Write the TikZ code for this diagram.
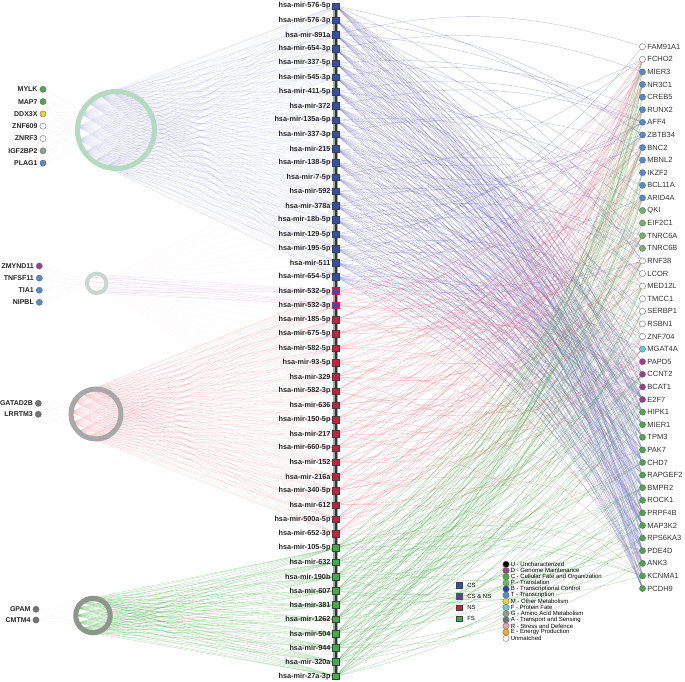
\documentclass[tikz,border=0pt]{standalone}
\usepackage{fontspec}
\setmainfont{Liberation Sans}
\usepackage{xcolor}
\usepackage{tikz}
\usetikzlibrary{positioning,backgrounds}

\definecolor{csblue}{RGB}{50,80,175}
\definecolor{nsred}{RGB}{205,30,60}
\definecolor{fsgreen}{RGB}{60,175,70}
\definecolor{catU}{RGB}{0,0,0}
\definecolor{catD}{RGB}{160,60,140}
\definecolor{catC}{RGB}{70,170,70}
\definecolor{catP}{RGB}{115,180,105}
\definecolor{catB}{RGB}{40,70,160}
\definecolor{catT}{RGB}{80,140,210}
\definecolor{catM}{RGB}{230,215,40}
\definecolor{catF}{RGB}{110,200,215}
\definecolor{catG}{RGB}{145,160,145}
\definecolor{catA}{RGB}{115,115,115}
\definecolor{catR}{RGB}{235,160,170}
\definecolor{catE}{RGB}{240,175,30}
\definecolor{catN}{RGB}{255,255,255}
\definecolor{lnblue}{RGB}{105,105,200}
\definecolor{lnred}{RGB}{235,105,120}
\definecolor{lngreen}{RGB}{70,175,70}
\definecolor{lnpink}{RGB}{225,140,200}

\begin{document}
\begin{tikzpicture}[x=1pt,y=-1pt,
  mir/.style={draw=black!75,line width=.4pt,minimum size=6.6pt,inner sep=0pt,outer sep=0pt},
  cs/.style={mir,fill=csblue},
  csns/.style={mir,fill=csblue,draw=nsred,line width=1.3pt},
  ns/.style={mir,fill=nsred},
  fs/.style={mir,fill=fsgreen},
  mirlab/.style={font=\fontsize{7.3}{8}\selectfont\bfseries,text=black!85,inner sep=.5pt},
  gene/.style={circle,draw=black!60,line width=.35pt,minimum size=6.2pt,inner sep=0pt},
  rlab/.style={font=\fontsize{7.5}{8}\selectfont,text=black!80,inner sep=.5pt},
  llab/.style={font=\fontsize{7}{8}\selectfont\bfseries,text=black!85,inner sep=.5pt},
  ring/.style={circle,inner sep=0pt,outer sep=0pt},
  fanblue/.style={draw=lnblue!75,opacity=.22,line width=.3pt},
  fanred/.style={draw=lnred,opacity=.22,line width=.3pt},
  fangreen/.style={draw=lngreen,opacity=.4,line width=.35pt},
  fanpink/.style={draw=lnpink,opacity=.3,line width=.3pt},
  faint/.style={draw=black!30,opacity=.15,line width=.25pt},
  eblue/.style={draw=lnblue,opacity=.45,line width=.35pt},
  ered/.style={draw=lnred,opacity=.4,line width=.35pt},
  egreen/.style={draw=lngreen,opacity=.45,line width=.35pt}]

\useasboundingbox (0,0) rectangle (685,681);

% miRNA column
\foreach \lab [count=\i] in {576-5p,576-3p,891a,654-3p,337-5p,545-3p,411-5p,372,135a-5p,337-3p,215,138-5p,7-5p,592,378a,18b-5p,129-5p,195-5p,511,654-5p}
  \node[cs] (m\i) at (335.7,{6+(\i-1)*14.26}) {};
\foreach \lab [count=\i from 21] in {532-5p,532-3p}
  \node[csns] (m\i) at (335.7,{6+(\i-1)*14.26}) {};
\foreach \lab [count=\i from 23] in {185-5p,675-5p,582-5p,93-5p,329,582-3p,636,150-5p,217,660-5p,152,216a,340-5p,612,500a-5p,652-3p}
  \node[ns] (m\i) at (335.7,{6+(\i-1)*14.26}) {};
\foreach \lab [count=\i from 39] in {105-5p,632,190b,607,381,1262,504,944,320a,27a-3p}
  \node[fs] (m\i) at (335.7,{6+(\i-1)*14.26}) {};
\foreach \lab [count=\i] in {576-5p,576-3p,891a,654-3p,337-5p,545-3p,411-5p,372,135a-5p,337-3p,215,138-5p,7-5p,592,378a,18b-5p,129-5p,195-5p,511,654-5p,532-5p,532-3p,185-5p,675-5p,582-5p,93-5p,329,582-3p,636,150-5p,217,660-5p,152,216a,340-5p,612,500a-5p,652-3p,105-5p,632,190b,607,381,1262,504,944,320a,27a-3p}
  \node[mirlab,left=1.2pt of m\i] {hsa-mir-\lab};

% target genes, right
\foreach \g/\c [count=\k] in {FAM91A1/catN,FCHO2/catN,MIER3/catT,NR3C1/catT,CREB5/catT,RUNX2/catT,AFF4/catT,ZBTB34/catT,BNC2/catT,MBNL2/catT,IKZF2/catT,BCL11A/catT,ARID4A/catT,QKI/catP,EIF2C1/catP,TNRC6A/catP,TNRC6B/catP,RNF38/catN,LCOR/catN,MED12L/catN,TMCC1/catN,SERBP1/catN,RSBN1/catN,ZNF704/catN,MGAT4A/catF,PAPD5/catD,CCNT2/catD,BCAT1/catD,E2F7/catD,HIPK1/catC,MIER1/catC,TPM3/catC,PAK7/catC,CHD7/catC,RAPGEF2/catC,BMPR2/catC,ROCK1/catC,PRPF4B/catC,MAP3K2/catC,RPS6KA3/catC,PDE4D/catC,ANK3/catC,KCNMA1/catC,PCDH9/catC}
{
  \node[gene,fill=\c] (g\k) at (642.5,{46.7+(\k-1)*12.6}) {};
  \node[rlab,right=1pt of g\k] {\g};
}

% gene groups, left
\node[ring,draw={rgb,255:red,180;green,218;blue,192},line width=5pt,minimum size=77pt] (ring1) at (116,130) {};
\node[ring,draw={rgb,255:red,200;green,214;blue,206},line width=4pt,minimum size=19.5pt] (ring2) at (96.7,283.3) {};
\node[ring,draw={rgb,255:red,168;green,168;blue,168},line width=5pt,minimum size=50pt] (ring3) at (96,414) {};
\node[ring,draw={rgb,255:red,140;green,150;blue,140},line width=5pt,minimum size=34.5pt] (ring4) at (93,615.5) {};

\foreach \g/\c [count=\k] in {MYLK/catC,MAP7/catC,DDX3X/catM,ZNF609/catN,ZNRF3/catN,IGF2BP2/catG,PLAG1/catT}
{
  \node[gene,fill=\c] (la\k) at (43,{89.3+(\k-1)*12.3}) {};
  \node[llab,left=1.5pt of la\k] {\g};
}
\foreach \g/\c [count=\k] in {ZMYND11/catD,TNFSF11/catT,TIA1/catT,NIPBL/catT}
{
  \node[gene,fill=\c] (lb\k) at (39.3,{266+(\k-1)*12.1}) {};
  \node[llab,left=1.5pt of lb\k] {\g};
}
\foreach \g/\c [count=\k] in {GATAD2B/catA,LRRTM3/catA}
{
  \node[gene,fill=\c] (lc\k) at (38.3,{403.3+(\k-1)*11}) {};
  \node[llab,left=1.5pt of lc\k] {\g};
}
\foreach \g/\c [count=\k] in {GPAM/catA,CMTM4/catA}
{
  \node[gene,fill=\c] (ld\k) at (36,{609.3+(\k-1)*10.7}) {};
  \node[llab,left=1.5pt of ld\k] {\g};
}

% legend
\node[cs,minimum size=5.5pt] (k1) at (459.3,585) {};
\node[csns,minimum size=5.5pt] (k2) at (459.3,596.4) {};
\node[ns,minimum size=5.5pt] (k3) at (459.3,607.5) {};
\node[fs,minimum size=5.5pt] (k4) at (459.3,618.5) {};
\foreach \t [count=\j] in {CS,CS \& NS,NS,FS}
  \node[font=\fontsize{6}{7}\selectfont,inner sep=0pt,right=5pt of k\j] {\t};
\foreach \c/\t [count=\j] in {catU/U - Uncharacterized,catD/D - Genome Maintenance,catC/C - Cellular Fate and Organization,catP/P - Translation,catB/B - Transcriptional Control,catT/T - Transcription,catM/M - Other Metabolism,catF/F - Protein Fate,catG/G - Amino Acid Metabolism,catA/A - Transport and Sensing,catR/R - Stress and Defence,catE/E - Energy Production,catN/Unmatched}
{
  \node[gene,fill=\c,minimum size=6.4pt] (u\j) at (506,{564.3+(\j-1)*6.17}) {};
  \node[font=\fontsize{6}{6}\selectfont,inner sep=0pt,right=1.2pt of u\j] {\t};
}

\begin{scope}[on background layer]
\fill[white] (0,0) rectangle (685,681);
% left fans
\foreach \k in {1,...,7} \foreach \a in {150,180,210} \draw[faint] (la\k) -- (ring1.\a);
\foreach \k in {1,...,4} \foreach \a in {160,200} \draw[faint] (lb\k) -- (ring2.\a);
\foreach \k in {1,2} \foreach \a in {150,180,210} \draw[faint] (lc\k) -- (ring3.\a);
\foreach \k in {1,2} \foreach \a in {150,180,210} \draw[faint] (ld\k) -- (ring4.\a);
\foreach \i in {1,...,20} \foreach \a in {95,115,135,155,175,195,215,235,255} \draw[fanblue] (ring1.\a) -- (m\i);
\foreach \i in {21,22} \foreach \a in {110,140,170,200,230,260} \draw[fanpink] (ring2.\a) -- (m\i);
\foreach \i in {12,...,32} \draw[fanpink,opacity=.08] (ring2) -- (m\i);
\foreach \i in {21,...,38} \foreach \a in {100,125,150,175,200,225,250} \draw[fanred] (ring3.\a) -- (m\i);
\foreach \i in {39,...,48} \foreach \a in {105,130,155,180,205,230,255} \draw[fangreen] (ring4.\a) -- (m\i);
% right targets
\foreach \i in {1,...,20} {
  \foreach \k in {1,...,7} {
    \pgfmathtruncatemacro\t{28+mod(mod(3*\i*\i+7*\i,17)+5*\k,17)}
    \pgfmathsetmacro\bb{(46.7+(\t-1)*12.6>6+(\i-1)*14.26)?15:-15}
    \draw[eblue] (m\i) to[bend left=\bb] (g\t);}
  \foreach \k in {1,2,3} {
    \pgfmathtruncatemacro\t{1+mod(mod(\i*\i+5*\i,27)+10*\k,27)}
    \pgfmathsetmacro\bb{(46.7+(\t-1)*12.6>6+(\i-1)*14.26)?15:-15}
    \draw[eblue] (m\i) to[bend left=\bb] (g\t);}
}
\foreach \i in {21,...,38} {
  \foreach \k in {1,...,5} {
    \pgfmathtruncatemacro\t{1+mod(mod(\i*\i+3*\i,30)+7*\k,30)}
    \pgfmathsetmacro\bb{(46.7+(\t-1)*12.6>6+(\i-1)*14.26)?15:-15}
    \draw[ered] (m\i) to[bend left=\bb] (g\t);}
  \foreach \k in {1,2} {
    \pgfmathtruncatemacro\t{1+mod(mod(5*\i,44)+19*\k,44)}
    \pgfmathsetmacro\bb{(46.7+(\t-1)*12.6>6+(\i-1)*14.26)?15:-15}
    \draw[ered] (m\i) to[bend left=\bb] (g\t);}
}
\foreach \i in {39,...,48} {
  \foreach \k in {1,...,10} {
    \pgfmathtruncatemacro\t{1+mod(mod(\i*\i+7*\i,43)+9*\k,43)}
    \pgfmathsetmacro\bb{(46.7+(\t-1)*12.6>6+(\i-1)*14.26)?15:-15}
    \draw[egreen] (m\i) to[bend left=\bb] (g\t);}
}
% backbone
\draw[line width=5pt,color={rgb,255:red,150;green,175;blue,160}] (m1.center) -- (m48.center);
\draw[line width=2.2pt,black!80] (m1.center) -- (m48.center);
\end{scope}
\end{tikzpicture}
\end{document}
